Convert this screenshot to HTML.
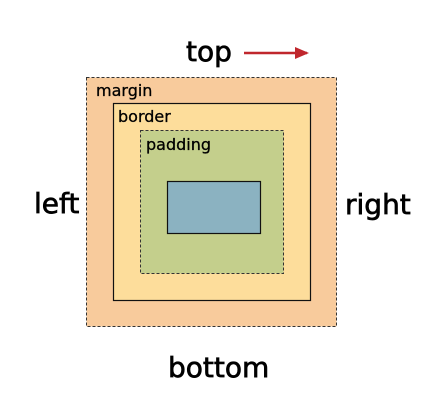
<!DOCTYPE html>
<html><head><meta charset="utf-8"><style>
html,body{margin:0;padding:0;background:#fff;width:438px;height:400px;overflow:hidden}
text{font-family:"DejaVu Sans","Liberation Sans",sans-serif;fill:#000;stroke:#000}
.big{stroke-width:0.7}
.small{stroke-width:0.3}
</style></head><body>
<svg width="438" height="400" viewBox="0 0 438 400" xmlns="http://www.w3.org/2000/svg">
<defs><marker id="ah" markerWidth="14" markerHeight="12" refX="12" refY="6" orient="auto" markerUnits="userSpaceOnUse"><path d="M0,0 L14,6 L0,12 z" fill="#c0272d"/></marker></defs>
<rect x="86.5" y="77.5" width="250" height="249" fill="#f8cb9c" stroke="#333" stroke-dasharray="3,2"/>
<rect x="113.5" y="103.5" width="197" height="197" fill="#fddd9b" stroke="#111" stroke-width="1.2"/>
<rect x="140.5" y="130.5" width="143" height="143" fill="#c4cf8c" stroke="#333" stroke-dasharray="3,2"/>
<rect x="167.5" y="181.5" width="93" height="52" fill="#8bb2c1" stroke="#111" stroke-width="1.2"/>
<text class="small" x="96" y="96" font-size="16">margin</text>
<text class="small" x="118" y="122" font-size="16">border</text>
<text class="small" x="146" y="150" font-size="16">padding</text>
<text class="big" x="186" y="61" font-size="28">top</text>
<line x1="244" y1="53" x2="307" y2="53" stroke="#c0272d" stroke-width="2.5" marker-end="url(#ah)"/>
<text class="big" x="34" y="213" font-size="28">left</text>
<text class="big" x="345" y="214" font-size="28">right</text>
<text class="big" x="168" y="377" font-size="28">bottom</text>
</svg>
</body></html>
